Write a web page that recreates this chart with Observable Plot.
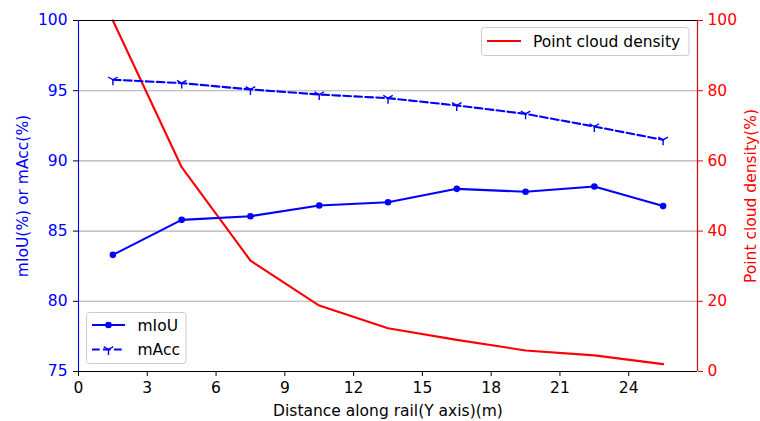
<!DOCTYPE html>
<html>
<head>
<meta charset="utf-8">
<script src="https://cdn.jsdelivr.net/npm/d3@7"></script>
<script src="https://cdn.jsdelivr.net/npm/@observablehq/plot@0.6"></script>
<style>
  html, body { margin: 0; padding: 0; background: #fff; }
  #wrap { position: relative; width: 760px; height: 421px; font-family: "DejaVu Sans", sans-serif; }
  #legend { position: absolute; left: 0; top: 0; pointer-events: none; }
</style>
</head>
<body>
<div id="wrap"></div>
<script>
const distance = [1.5, 4.5, 7.5, 10.5, 13.5, 16.5, 19.5, 22.5, 25.5];
const mIoU = [83.31, 85.8, 86.06, 86.82, 87.06, 88.01, 87.8, 88.18, 86.78];
const mAcc = [95.78, 95.54, 95.09, 94.73, 94.47, 93.95, 93.35, 92.45, 91.5];
const density = [100, 58.2, 31.6, 18.8, 12.3, 9.0, 6.0, 4.6, 2.1];
const xTicks = [0, 3, 6, 9, 12, 15, 18, 21, 24];
const leftTicks = [75, 80, 85, 90, 95, 100];
const rightTicks = [0, 20, 40, 60, 80, 100];
const gridTicks = [80, 85, 90, 95];

const FONT = 15.5;
// map right-axis (0..100) onto left scale (75..100)
const toLeft = v => 75 + v * 0.25;
const fromLeft = v => (v - 75) * 4;

const rows = distance.map((d, i) => ({x: d, miou: mIoU[i], macc: mAcc[i], dens: toLeft(density[i])}));

const triDown = {
  draw(ctx, size) {
    const r = Math.sqrt(size / Math.PI);
    ctx.moveTo(0, 0); ctx.lineTo(0, r);
    ctx.moveTo(0, 0); ctx.lineTo(-r * 0.866, -r * 0.5);
    ctx.moveTo(0, 0); ctx.lineTo(r * 0.866, -r * 0.5);
  }
};

const chart = Plot.plot({
  width: 760,
  height: 421,
  marginLeft: 78,
  marginRight: 63,
  marginTop: 20,
  marginBottom: 50,
  style: {fontFamily: "DejaVu Sans", fontSize: FONT + "px", background: "#fff", overflow: "visible"},
  x: {domain: [0, 27]},
  y: {domain: [75, 100]},
  marks: [
    Plot.ruleY(gridTicks, {stroke: "#b0b0b0", strokeWidth: 1.1}),
    Plot.line(rows, {x: "x", y: "dens", stroke: "#ff0000", strokeWidth: 2.1}),
    Plot.line(rows, {x: "x", y: "miou", stroke: "#0000ff", strokeWidth: 2.1}),
    Plot.dot(rows, {x: "x", y: "miou", fill: "#0000ff", r: 3.3}),
    Plot.line(rows, {x: "x", y: "macc", stroke: "#0000ff", strokeWidth: 2.1, strokeDasharray: "7.7,3.3"}),
    Plot.dot(rows, {x: "x", y: "macc", symbol: triDown, stroke: "#0000ff", fill: "none", strokeWidth: 1.4, r: 5.5}),
    // spines
    Plot.ruleY([100], {stroke: "#000", strokeWidth: 1.1}),
    Plot.ruleY([75], {stroke: "#000", strokeWidth: 1.1}),
    Plot.ruleX([0], {stroke: "#0000ff", strokeWidth: 1.1}),
    Plot.ruleX([27], {stroke: "#c81818", strokeWidth: 1.3}),
    // x axis
    Plot.axisX({ticks: xTicks, tickSize: 5, tickPadding: 5, color: "#000",
      label: "Distance along rail(Y axis)(m)", labelAnchor: "center", labelArrow: "none", labelOffset: 44}),
    // left axis: tick marks black, labels blue
    Plot.axisY({anchor: "left", ticks: leftTicks, tickSize: 5, tickFormat: () => "", color: "#000", label: null}),
    Plot.axisY({anchor: "left", ticks: leftTicks, tickSize: 0, tickPadding: 11, color: "#0000ff",
      label: "mIoU(%) or mAcc(%)", labelAnchor: "center", labelArrow: "none", labelOffset: 62}),
    // right axis in red
    Plot.axisY({anchor: "right", ticks: rightTicks.map(toLeft), tickFormat: v => String(Math.round(fromLeft(v))),
      tickSize: 5, tickPadding: 5, color: "#ff0000",
      label: "Point cloud density(%)", labelAnchor: "center", labelArrow: "none", labelOffset: 58})
  ]
});

const wrap = document.getElementById("wrap");
wrap.appendChild(chart);

// legends overlay
const ns = "http://www.w3.org/2000/svg";
const leg = document.createElementNS(ns, "svg");
leg.setAttribute("id", "legend");
leg.setAttribute("width", 760);
leg.setAttribute("height", 421);
leg.innerHTML = `
  <g font-family="DejaVu Sans" font-size="${FONT}px" fill="#000">
    <rect x="481.5" y="27.5" width="207.5" height="28" rx="3" fill="rgba(255,255,255,0.8)" stroke="#cccccc" stroke-width="1"/>
    <line x1="487" x2="521" y1="41" y2="41" stroke="#ff0000" stroke-width="2.1"/>
    <text x="533" y="46.5">Point cloud density</text>

    <rect x="86.5" y="312.5" width="99.5" height="51" rx="3" fill="rgba(255,255,255,0.8)" stroke="#cccccc" stroke-width="1"/>
    <line x1="92" x2="125" y1="325" y2="325" stroke="#0000ff" stroke-width="2.1"/>
    <circle cx="108.5" cy="325" r="3.3" fill="#0000ff"/>
    <text x="137.5" y="330.5">mIoU</text>
    <line x1="92" x2="125" y1="349.5" y2="349.5" stroke="#0000ff" stroke-width="2.1" stroke-dasharray="7.7,3.3"/>
    <path d="M108.5,349.5L108.5,355M108.5,349.5L103.7,346.7M108.5,349.5L113.3,346.7" stroke="#0000ff" stroke-width="1.4" fill="none"/>
    <text x="137.5" y="355">mAcc</text>
  </g>`;
wrap.appendChild(leg);
</script>
</body>
</html>
